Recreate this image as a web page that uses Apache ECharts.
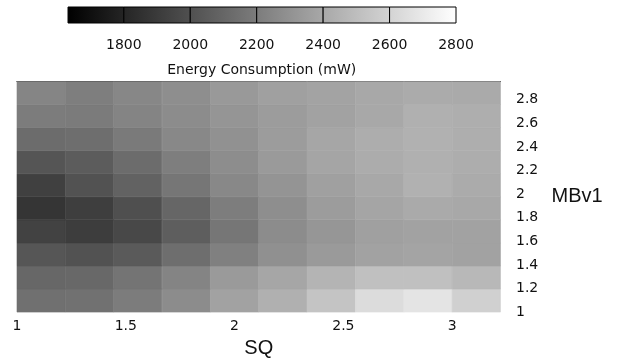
<!DOCTYPE html>
<html>
<head>
<meta charset="utf-8">
<script src="https://cdn.jsdelivr.net/npm/echarts@6/dist/echarts.min.js"></script>
<style>
  html, body { margin: 0; padding: 0; background: #fff; }
  #main { width: 620px; height: 363px; }
</style>
</head>
<body>
<div id="main"></div>
<script>
// SQ column starts (each cell is one step wide)
var sq = [1.000, 1.222, 1.444, 1.667, 1.889, 2.111, 2.333, 2.556, 2.778, 3.000];
// MBv1 rows, bottom to top
var mbv1 = [1.0, 1.2, 1.4, 1.6, 1.8, 2.0, 2.2, 2.4, 2.6, 2.8];

// Energy consumption (mW), one array per MBv1 row, values along SQ
var mb10 = [2145, 2150, 2200, 2273, 2374, 2438, 2530, 2640, 2676, 2585];
var mb12 = [2104, 2108, 2163, 2237, 2337, 2392, 2456, 2511, 2511, 2475];
var mb14 = [2026, 2008, 2044, 2136, 2218, 2292, 2337, 2374, 2383, 2374];
var mb16 = [1934, 1911, 1962, 2063, 2172, 2273, 2319, 2365, 2374, 2374];
var mb18 = [1875, 1916, 1994, 2099, 2205, 2282, 2346, 2388, 2411, 2401];
var mb20 = [1925, 2008, 2081, 2172, 2255, 2310, 2365, 2401, 2443, 2415];
var mb22 = [2021, 2053, 2127, 2209, 2278, 2337, 2388, 2420, 2438, 2424];
var mb24 = [2127, 2136, 2191, 2255, 2296, 2346, 2392, 2424, 2443, 2429];
var mb26 = [2200, 2195, 2237, 2273, 2314, 2346, 2374, 2401, 2438, 2429];
var mb28 = [2241, 2209, 2250, 2282, 2333, 2365, 2379, 2401, 2415, 2411];
var energyRows = [mb10, mb12, mb14, mb16, mb18, mb20, mb22, mb24, mb26, mb28];

// colour scale and colorbar
var eMin = 1632, eMax = 2800;
var cbEdges = [1632, 1800, 2000, 2200, 2400, 2600, 2800];
var cbTicks = [1800, 2000, 2200, 2400, 2600, 2800];

var xTicks = [1, 1.5, 2, 2.5, 3];
var yTicks = [1, 1.2, 1.4, 1.6, 1.8, 2, 2.2, 2.4, 2.6, 2.8];

var X_MAX = 3.2222, Y_MAX = 2.955;

var cells = [];
energyRows.forEach(function (row, j) {
    row.forEach(function (v, i) { cells.push([i, j, v]); });
});
var segments = [];
for (var k = 0; k < cbEdges.length - 1; k++) segments.push([cbEdges[k], cbEdges[k + 1]]);

function grayAt(v) {
    var g = Math.round((v - eMin) / (eMax - eMin) * 255);
    g = Math.max(0, Math.min(255, g));
    return 'rgb(' + g + ',' + g + ',' + g + ')';
}

function renderCell(params, api) {
    var i = api.value(0), j = api.value(1);
    var step = sq[1] - sq[0];
    var x0 = sq[i], x1 = sq[i] + step;
    var rowH = (Y_MAX - mbv1[0]) / mbv1.length;
    var y0 = mbv1[0] + j * rowH, y1 = y0 + rowH;
    var p0 = api.coord([x0, y1]), p1 = api.coord([x1, y0]);
    var c = api.visual('color');
    return {
        type: 'rect',
        shape: { x: p0[0], y: p0[1], width: p1[0] - p0[0], height: p1[1] - p0[1] },
        style: { fill: c, stroke: c, lineWidth: 0.6 }
    };
}

function renderSegment(params, api) {
    var lo = api.value(0), hi = api.value(1);
    var p0 = api.coord([lo, 1]), p1 = api.coord([hi, 0]);
    return {
        type: 'rect',
        shape: { x: p0[0], y: p0[1], width: p1[0] - p0[0], height: p1[1] - p0[1] },
        style: {
            fill: new echarts.graphic.LinearGradient(0, 0, 1, 0, [
                { offset: 0, color: grayAt(lo) },
                { offset: 1, color: grayAt(hi) }
            ]),
            stroke: '#000',
            lineWidth: 1
        }
    };
}

var labelFont = { fontFamily: 'DejaVu Sans', fontSize: 14, color: '#111' };

var myChart = echarts.init(document.getElementById('main'));
myChart.setOption({
    animation: false,
    grid: [
        { left: 17, right: 119.5, top: 81.5, bottom: 49.7 },
        { left: 57.4, right: 164, top: 7, height: 16 }
    ],
    visualMap: {
        show: false,
        seriesIndex: 0,
        dimension: 2,
        min: eMin,
        max: eMax,
        inRange: { color: ['#000000', '#ffffff'] }
    },
    xAxis: [
        {
            type: 'value', gridIndex: 0, min: 1, max: X_MAX, interval: 0.5,
            axisLine: { show: false }, axisTick: { show: false }, splitLine: { show: false },
            axisLabel: Object.assign({ margin: 7, showMaxLabel: false,
                formatter: function (v) { return xTicks.indexOf(v) >= 0 ? String(v) : ''; } }, labelFont),
            name: 'SQ', nameLocation: 'middle', nameGap: 25,
            nameTextStyle: { fontFamily: 'Liberation Sans', fontSize: 20, color: '#111' }
        },
        {
            type: 'value', gridIndex: 1, min: 1600, max: 2800, interval: 200,
            axisLine: { show: false }, axisTick: { show: false }, splitLine: { show: false },
            axisLabel: Object.assign({ margin: 15.5, showMinLabel: false,
                formatter: function (v) { return cbTicks.indexOf(v) >= 0 ? String(v) : ''; } }, labelFont),
            name: 'Energy Consumption (mW)', nameLocation: 'middle', nameGap: 40,
            nameTextStyle: { fontFamily: 'DejaVu Sans', fontSize: 14, color: '#111', padding: [0, 0, 0, 10] }
        },
        {
            type: 'value', gridIndex: 0, position: 'top', min: 1, max: X_MAX,
            axisLine: { show: true, lineStyle: { color: '#000', width: 1.2 } },
            axisTick: { show: false }, axisLabel: { show: false }, splitLine: { show: false }
        }
    ],
    yAxis: [
        {
            type: 'value', gridIndex: 0, position: 'right', min: 1, max: Y_MAX, interval: 0.2,
            axisLine: { show: false }, axisTick: { show: false }, splitLine: { show: false },
            axisLabel: Object.assign({ margin: 15.5, align: 'left',
                formatter: function (v) {
                    var t = Math.round(v * 10) / 10;
                    return yTicks.indexOf(t) >= 0 ? String(t) : '';
                } }, labelFont),
            name: 'MBv1', nameLocation: 'middle', nameRotate: 0, nameGap: 51,
            nameTextStyle: { fontFamily: 'Liberation Sans', fontSize: 20, color: '#111', align: 'left' }
        },
        {
            type: 'value', gridIndex: 1, min: 0, max: 1, show: false
        }
    ],
    series: [
        {
            type: 'custom',
            xAxisIndex: 0, yAxisIndex: 0,
            renderItem: renderCell,
            data: cells,
            encode: { x: 0, y: 1 }
        },
        {
            type: 'custom',
            xAxisIndex: 1, yAxisIndex: 1,
            renderItem: renderSegment,
            data: segments,
            encode: { x: [0, 1] }
        }
    ]
});
</script>
</body>
</html>
